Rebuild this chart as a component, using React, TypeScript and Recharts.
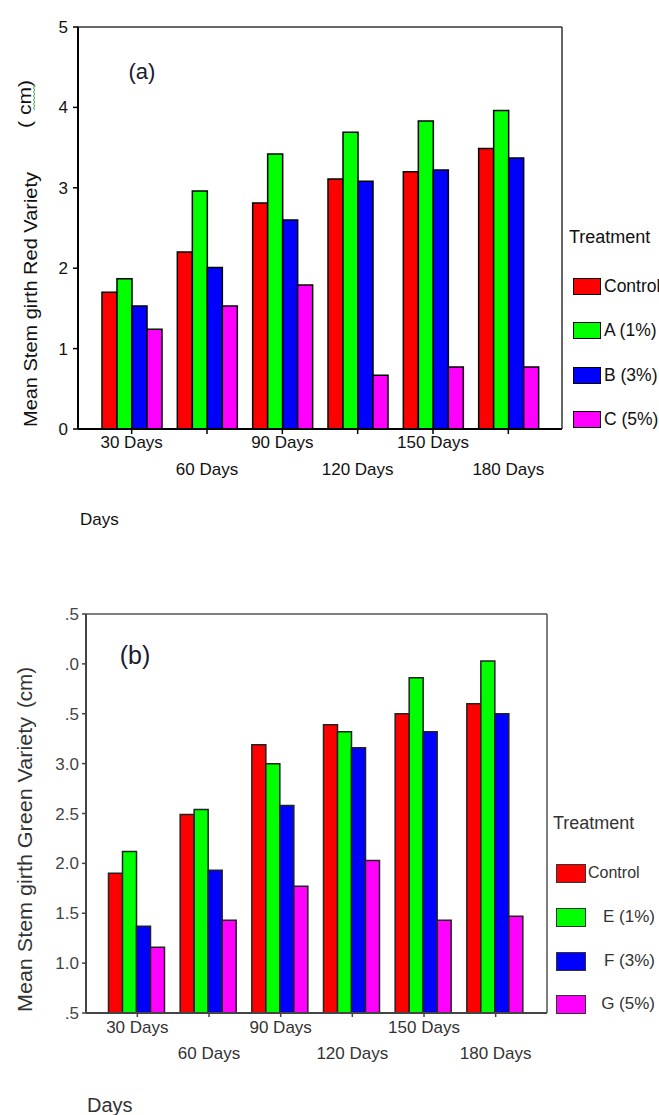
import React from 'react';
import { BarChart, Bar, XAxis, YAxis } from 'recharts';

const days = ['30 Days', '60 Days', '90 Days', '120 Days', '150 Days', '180 Days'];

const redControl = [1.7, 2.2, 2.81, 3.11, 3.2, 3.49];
const redA = [1.87, 2.96, 3.42, 3.69, 3.83, 3.96];
const redB = [1.53, 2.01, 2.6, 3.08, 3.22, 3.37];
const redC = [1.24, 1.53, 1.79, 0.67, 0.77, 0.77];

const greenControl = [1.9, 2.49, 3.19, 3.39, 3.5, 3.6];
const greenE = [2.12, 2.54, 3.0, 3.32, 3.86, 4.03];
const greenF = [1.37, 1.93, 2.58, 3.16, 3.32, 3.5];
const greenG = [1.16, 1.43, 1.77, 2.03, 1.43, 1.47];

const ticksA = [0, 1, 2, 3, 4, 5];
const ticksB = [0.5, 1, 1.5, 2, 2.5, 3, 3.5, 4, 4.5];
const tickLabelsB = ['.5', '1.0', '1.5', '2.0', '2.5', '3.0', '.5', '.0', '.5'];

const seriesA = ['Control', 'A (1%)', 'B (3%)', 'C (5%)'];
const seriesB = ['Control', 'E (1%)', 'F (3%)', 'G (5%)'];
const colors = ['#ff0000', '#00ff00', '#0000ff', '#ff00ff'];

const dataA = days.map((d, i) => ({ day: d, s0: redControl[i], s1: redA[i], s2: redB[i], s3: redC[i] }));
const dataB = days.map((d, i) => ({ day: d, s0: greenControl[i], s1: greenE[i], s2: greenF[i], s3: greenG[i] }));

const FONT = '"Liberation Sans", Arial, "DejaVu Sans", sans-serif';

const makeDayTick = (dy1: number, dy2: number, fill: string, fontSize: number) => (props: any) => {
  const { x, y, payload, index } = props;
  const idx = typeof index === 'number' ? index : payload.index;
  const dy = idx % 2 === 0 ? dy1 : dy2;
  return (
    <text x={x} y={y + dy} textAnchor="middle" fontSize={fontSize} fill={fill} fontFamily={FONT}>
      {payload.value}
    </text>
  );
};

const LegendBlock = (props: {
  names: string[];
  title: string;
  titleX: number;
  titleY: number;
  swX: number;
  swW: number;
  swH: number;
  ys: number[];
  textX: number;
  color: string;
  border: string;
  variantB?: boolean;
}) => {
  const { names, title, titleX, titleY, swX, swW, swH, ys, textX, color, border, variantB } = props;
  return (
    <>
      <div
        style={{
          position: 'absolute',
          left: titleX,
          top: titleY - 11,
          height: 22,
          lineHeight: '22px',
          fontFamily: FONT,
          fontSize: 18,
          color,
          whiteSpace: 'nowrap',
        }}
      >
        {title}
      </div>
      {names.map((n, i) => (
        <React.Fragment key={n}>
          <div
            style={{
              position: 'absolute',
              left: swX,
              top: ys[i] - swH / 2,
              width: swW,
              height: swH,
              boxSizing: 'border-box',
              background: colors[i],
              border: border,
            }}
          />
          {variantB && i > 0 ? (
            <div
              style={{
                position: 'absolute',
                right: 659 - 655,
                top: ys[i] - 11,
                height: 22,
                lineHeight: '22px',
                fontFamily: FONT,
                fontSize: 17,
                color,
                whiteSpace: 'nowrap',
              }}
            >
              {n}
            </div>
          ) : (
            <div
              style={{
                position: 'absolute',
                left: textX,
                top: ys[i] - 11,
                height: 22,
                lineHeight: '22px',
                fontFamily: FONT,
                fontSize: variantB ? 16 : 17.5,
                color,
                whiteSpace: 'nowrap',
              }}
            >
              {n}
            </div>
          )}
        </React.Fragment>
      ))}
    </>
  );
};

export default function App() {
  return (
    <div style={{ position: 'absolute', left: 0, top: 0, width: 659, height: 1115, background: '#fff', overflow: 'hidden' }}>
      {/* Chart (a) */}
      <div style={{ position: 'absolute', left: 0, top: 0 }}>
        <BarChart
          width={659}
          height={560}
          data={dataA}
          margin={{ top: 26, right: 96, left: 0, bottom: 71 }}
          barGap={0}
          barCategoryGap={8}
        >
          <XAxis
            dataKey="day"
            padding={{ left: 16, right: 16 }}
            interval={0}
            height={60}
            tickSize={5}
            tickMargin={2}
            axisLine={{ stroke: '#000', strokeWidth: 2 }}
            tickLine={{ stroke: '#000', strokeWidth: 1.5 }}
            tick={makeDayTick(12, 39, '#111', 17)}
          />
          <XAxis
            xAxisId="top"
            orientation="top"
            dataKey="day"
            height={1}
            tick={false}
            tickLine={false}
            axisLine={{ stroke: '#333', strokeWidth: 1.5 }}
          />
          <YAxis
            width={78}
            domain={[0, 5]}
            ticks={ticksA}
            interval={0}
            tickSize={5}
            tickMargin={5}
            axisLine={{ stroke: '#000', strokeWidth: 2 }}
            tickLine={{ stroke: '#000', strokeWidth: 1.5 }}
            tick={{ fontSize: 17, fill: '#111', fontFamily: FONT }}
          />
          <YAxis
            yAxisId="right"
            orientation="right"
            width={1}
            domain={[0, 5]}
            tick={false}
            tickLine={false}
            axisLine={{ stroke: '#333', strokeWidth: 1.5 }}
          />
          {seriesA.map((n, i) => (
            <Bar
              key={n}
              dataKey={'s' + i}
              name={n}
              fill={colors[i]}
              stroke="#000"
              strokeWidth={1.5}
              isAnimationActive={false}
            />
          ))}
        </BarChart>
      </div>

      {/* Chart (b) */}
      <div style={{ position: 'absolute', left: 0, top: 560 }}>
        <BarChart
          width={659}
          height={555}
          data={dataB}
          margin={{ top: 53, right: 111, left: 0, bottom: 42 }}
          barGap={0}
          barCategoryGap={7}
        >
          <XAxis
            dataKey="day"
            padding={{ left: 15.5, right: 15.5 }}
            interval={0}
            height={60}
            tickSize={4}
            tickMargin={2}
            axisLine={{ stroke: '#444', strokeWidth: 2 }}
            tickLine={{ stroke: '#444', strokeWidth: 1.5 }}
            tick={makeDayTick(14, 40, '#333', 17)}
          />
          <XAxis
            xAxisId="top"
            orientation="top"
            dataKey="day"
            height={1}
            tick={false}
            tickLine={false}
            axisLine={{ stroke: '#555', strokeWidth: 1.5 }}
          />
          <YAxis
            width={86}
            domain={[0.5, 4.5]}
            ticks={ticksB}
            interval={0}
            tickSize={4}
            tickMargin={3}
            tickFormatter={(v: number) => tickLabelsB[ticksB.indexOf(v)] ?? String(v)}
            axisLine={{ stroke: '#444', strokeWidth: 2 }}
            tickLine={{ stroke: '#444', strokeWidth: 1.5 }}
            tick={{ fontSize: 17, fill: '#444', fontFamily: FONT }}
          />
          <YAxis
            yAxisId="right"
            orientation="right"
            width={1}
            domain={[0.5, 4.5]}
            tick={false}
            tickLine={false}
            axisLine={{ stroke: '#555', strokeWidth: 1.5 }}
          />
          {seriesB.map((n, i) => (
            <Bar
              key={n}
              dataKey={'s' + i}
              name={n}
              fill={colors[i]}
              stroke="#222"
              strokeWidth={1.5}
              isAnimationActive={false}
            />
          ))}
        </BarChart>
      </div>

      {/* Text overlays */}
      <svg width={659} height={1115} style={{ position: 'absolute', left: 0, top: 0, pointerEvents: 'none' }}>
        <text x={142} y={79} textAnchor="middle" fontSize={22} fill="#1a1a30" fontFamily={FONT}>(a)</text>
        <text
          transform="translate(37,427) rotate(-90)"
          fontSize={19}
          fill="#111"
          fontFamily={FONT}
          textLength={255}
          lengthAdjust="spacingAndGlyphs"
        >
          Mean Stem girth Red Variety
        </text>
        <text
          transform="translate(31,128) rotate(-90)"
          fontSize={19}
          fill="#111"
          fontFamily={FONT}
          textLength={48}
          lengthAdjust="spacingAndGlyphs"
        >
          ( cm)
        </text>
        <path
          d="M33.5 84 l1.2 2 l-1.2 2 l1.2 2 l-1.2 2 l1.2 2 l-1.2 2 l1.2 2 l-1.2 2 l1.2 2 l-1.2 2 l1.2 2 l-1.2 2 l1.2 2"
          fill="none"
          stroke="#3aaa3a"
          strokeWidth={1}
        />
        <text x={80} y={525} fontSize={17} fill="#111" fontFamily={FONT}>Days</text>

        <text x={135} y={664} textAnchor="middle" fontSize={25} fill="#1a1a30" fontFamily={FONT}>(b)</text>
        <text
          transform="translate(32,1012) rotate(-90)"
          fontSize={20}
          fill="#333"
          fontFamily={FONT}
          textLength={295}
          lengthAdjust="spacingAndGlyphs"
        >
          Mean Stem girth Green Variety
        </text>
        <text
          transform="translate(32,708) rotate(-90)"
          fontSize={20}
          fill="#333"
          fontFamily={FONT}
          textLength={41}
          lengthAdjust="spacingAndGlyphs"
        >
          (cm)
        </text>
        <text x={87} y={1112} fontSize={20} fill="#333" fontFamily={FONT}>Days</text>
      </svg>

      <LegendBlock
        names={seriesA}
        title="Treatment"
        titleX={569}
        titleY={237}
        swX={573}
        swW={28}
        swH={17}
        ys={[286, 330, 375, 419]}
        textX={604}
        color="#111"
        border="1.5px solid #000"
      />
      <LegendBlock
        names={seriesB}
        title="Treatment"
        titleX={553}
        titleY={823}
        swX={556}
        swW={30}
        swH={19}
        ys={[873, 917, 961, 1004]}
        textX={588}
        color="#333"
        border="1.5px solid #333"
        variantB
      />
    </div>
  );
}
